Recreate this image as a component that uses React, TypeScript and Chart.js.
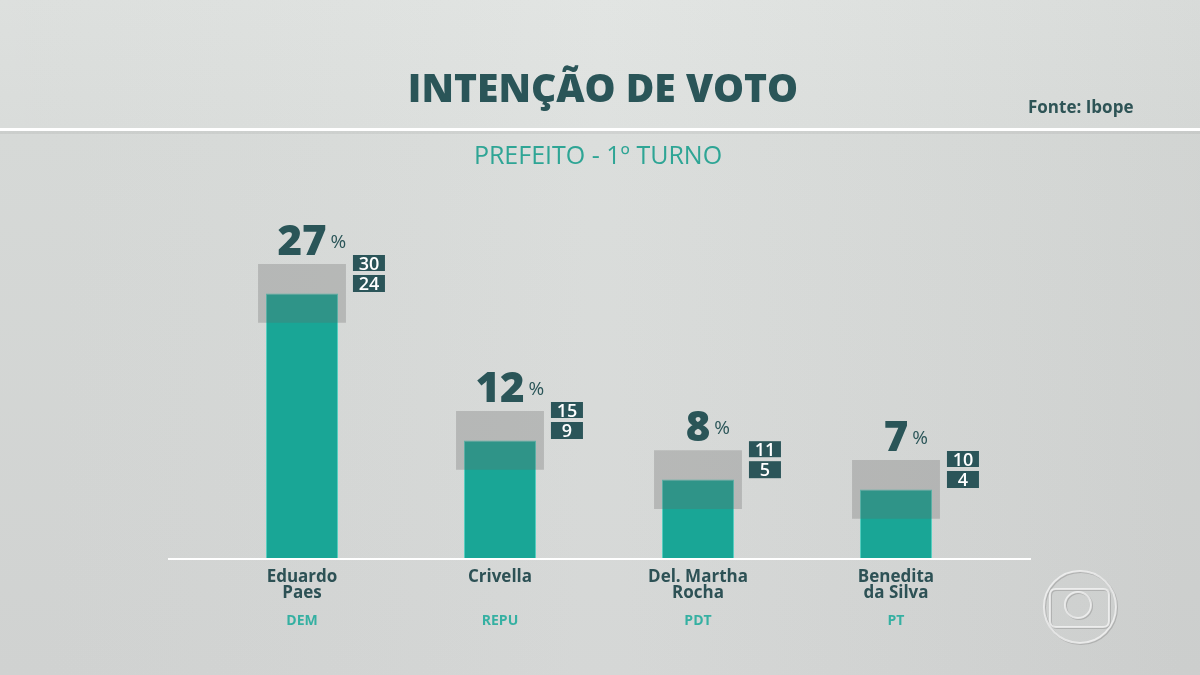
import React, { useEffect, useRef } from "react";
import { Chart, registerables } from "chart.js";

Chart.register(...registerables);

// ---- data ----
const candidates = ["Eduardo Paes", "Crivella", "Del. Martha Rocha", "Benedita da Silva"];
const nameLines = [["Eduardo", "Paes"], ["Crivella"], ["Del. Martha", "Rocha"], ["Benedita", "da Silva"]];
const parties = ["DEM", "REPU", "PDT", "PT"];
const votes = [27, 12, 8, 7];
const marginHigh = [30, 15, 11, 10];
const marginLow = [24, 9, 5, 4];
const titleText = "INTENÇÃO DE VOTO";
const subtitleText = "PREFEITO - 1º TURNO";
const sourceText = "Fonte: Ibope";

const FONT = "'Open Sans', 'Noto Sans', sans-serif";
const DARK = "#2a5558";
const TEAL = "#19a696";

const decorPlugin = {
  id: "decor",
  beforeDraw(chart: any) {
    const { ctx, width, height } = chart;
    ctx.save();
    const g = ctx.createLinearGradient(0, 0, 0, height);
    g.addColorStop(0, "#e1e4e2");
    g.addColorStop(0.19, "#dde0de");
    g.addColorStop(0.2, "#dadddb");
    g.addColorStop(1, "#d4d6d5");
    ctx.fillStyle = g;
    ctx.fillRect(0, 0, width, height);
    const h = ctx.createLinearGradient(0, 0, width, 0);
    h.addColorStop(0, "rgba(0,0,0,0.02)");
    h.addColorStop(0.5, "rgba(255,255,255,0.03)");
    h.addColorStop(1, "rgba(0,0,0,0.04)");
    ctx.fillStyle = h;
    ctx.fillRect(0, 0, width, height);
    // separator line under title
    ctx.fillStyle = "rgba(120,120,120,0.12)";
    ctx.fillRect(0, 131, width, 3);
    ctx.fillStyle = "#ffffff";
    ctx.fillRect(0, 128, width, 3);

    // title
    ctx.fillStyle = DARK;
    ctx.textAlign = "center";
    ctx.textBaseline = "alphabetic";
    ctx.font = `800 39px ${FONT}`;
    ctx.fillText(titleText, 603, 102);
    ctx.fillStyle = "#2ea595";
    ctx.font = `400 25px ${FONT}`;
    ctx.fillText(subtitleText, 598, 164);
    ctx.fillStyle = "#2e5456";
    ctx.textAlign = "left";
    ctx.font = `700 17px ${FONT}`;
    ctx.fillText(sourceText, 1028, 113);

    // broadcaster logo (decorative)
    const cx = 1080, cy = 607;
    const strokeLogo = (col: string, dx: number, dy: number) => {
      ctx.strokeStyle = col;
      ctx.lineWidth = 2;
      ctx.beginPath();
      ctx.arc(cx + dx, cy + dy, 36, 0, Math.PI * 2);
      ctx.stroke();
      ctx.beginPath();
      const rx = 1050 + dx, ry = 589 + dy, rw = 59, rh = 38, r = 6;
      ctx.moveTo(rx + r, ry);
      ctx.lineTo(rx + rw - r, ry);
      ctx.quadraticCurveTo(rx + rw, ry, rx + rw, ry + r);
      ctx.lineTo(rx + rw, ry + rh - r);
      ctx.quadraticCurveTo(rx + rw, ry + rh, rx + rw - r, ry + rh);
      ctx.lineTo(rx + r, ry + rh);
      ctx.quadraticCurveTo(rx, ry + rh, rx, ry + rh - r);
      ctx.lineTo(rx, ry + r);
      ctx.quadraticCurveTo(rx, ry, rx + r, ry);
      ctx.stroke();
      ctx.beginPath();
      ctx.arc(1078 + dx, 605 + dy, 13, 0, Math.PI * 2);
      ctx.stroke();
    };
    strokeLogo("rgba(140,140,140,0.45)", 1, 1);
    strokeLogo("rgba(250,250,250,0.7)", 0, 0);
    ctx.restore();
  },
  afterDatasetsDraw(chart: any) {
    const { ctx, chartArea } = chart;
    const xs = chart.scales.x;
    const ys = chart.scales.y;
    const bandMeta = chart.getDatasetMeta(0);
    ctx.save();
    // baseline
    ctx.fillStyle = "#ffffff";
    ctx.fillRect(chartArea.left - 35, chartArea.bottom, chartArea.right - chartArea.left + 71, 2);

    votes.forEach((v, i) => {
      const x = xs.getPixelForValue(i);
      const bandTop = ys.getPixelForValue(marginHigh[i]);
      const el = bandMeta.data[i];
      const bandRight = el.x + el.width / 2;

      // value label
      ctx.fillStyle = DARK;
      ctx.textBaseline = "alphabetic";
      ctx.textAlign = "center";
      ctx.font = `800 42px ${FONT}`;
      const txt = String(v);
      const w = ctx.measureText(txt).width;
      ctx.fillText(txt, x, bandTop - 9);
      ctx.textAlign = "left";
      ctx.font = `400 19px ${FONT}`;
      ctx.fillText("%", x + w / 2 + 4, bandTop - 16);

      // margin boxes
      const bx = bandRight + 7;
      ctx.fillStyle = "#2b5559";
      ctx.fillRect(bx, bandTop - 9, 32, 16);
      ctx.fillRect(bx, bandTop + 11, 32, 17);
      ctx.fillStyle = "#ffffff";
      ctx.textAlign = "center";
      ctx.textBaseline = "alphabetic";
      ctx.font = `600 18px ${FONT}`;
      ctx.fillText(String(marginHigh[i]), bx + 16, bandTop + 6);
      ctx.fillText(String(marginLow[i]), bx + 16, bandTop + 26);

      // names
      ctx.fillStyle = "#2d5155";
      ctx.font = `700 17px ${FONT}`;
      nameLines[i].forEach((line, j) => {
        ctx.fillText(line, x, chartArea.bottom + 24 + j * 16);
      });
      ctx.fillStyle = "#35b0a2";
      ctx.font = `700 14px ${FONT}`;
      ctx.fillText(parties[i], x, chartArea.bottom + 67);
    });
    ctx.restore();
  },
};

export default function App() {
  const ref = useRef<HTMLCanvasElement | null>(null);
  useEffect(() => {
    if (!ref.current) return;
    const chart = new Chart(ref.current, {
      type: "bar",
      data: {
        labels: candidates,
        datasets: [
          {
            label: "Margem",
            data: marginLow.map((lo, i) => [lo, marginHigh[i]]) as any,
            backgroundColor: "rgba(105,105,105,0.29)",
            borderWidth: 0,
            barPercentage: 0.444,
            categoryPercentage: 1,
            grouped: false,
            order: 0,
          },
          {
            label: "Intenção de voto",
            data: votes,
            backgroundColor: TEAL,
            borderColor: "#55cfc0",
            borderWidth: 1,
            barPercentage: 0.364,
            categoryPercentage: 1,
            grouped: false,
            order: 1,
          },
        ],
      },
      options: {
        animation: false,
        responsive: false,
        maintainAspectRatio: false,
        devicePixelRatio: 1,
        layout: { padding: { left: 203, right: 205, top: 166, bottom: 117 } },
        plugins: { legend: { display: false }, tooltip: { enabled: false }, title: { display: false } },
        scales: {
          x: { display: false, grid: { display: false } },
          y: { display: false, min: 0, max: 40, grid: { display: false } },
        },
      },
      plugins: [decorPlugin],
    });
    return () => chart.destroy();
  }, []);
  return (
    <div style={{ position: "fixed", left: 0, top: 0, width: 1200, height: 675 }}>
      <canvas ref={ref} width={1200} height={675} style={{ width: 1200, height: 675, display: "block" }} />
    </div>
  );
}
